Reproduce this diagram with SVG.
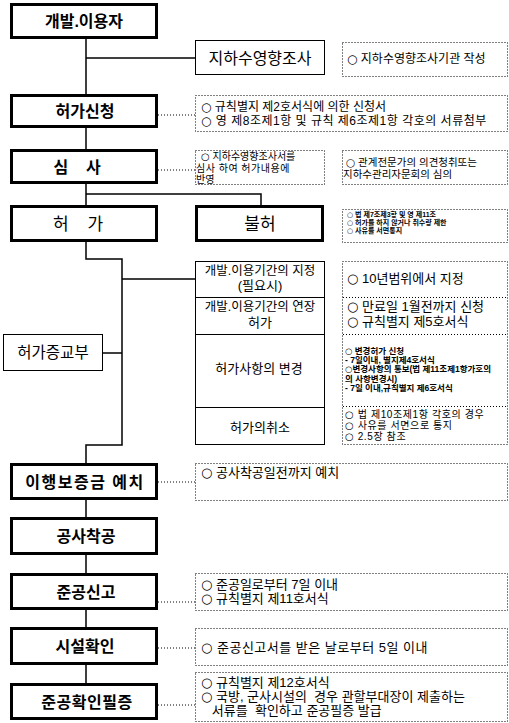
<svg xmlns="http://www.w3.org/2000/svg" width="509" height="723" viewBox="0 0 509 723">
<style>
text{font-family:"Liberation Sans","Noto Sans CJK KR",sans-serif;fill:#000}
.c{font-family:"DejaVu Sans","Noto Sans CJK KR",sans-serif;font-weight:normal}
.main{fill:#fff;stroke:#000;stroke-width:3}
.thin{fill:#fff;stroke:#000;stroke-width:1}
.dot{fill:none;stroke:#000;stroke-width:1;stroke-dasharray:1 2}
.ln{fill:none;stroke:#000;stroke-width:1.5}
.dl{fill:none;stroke:#000;stroke-width:1;stroke-dasharray:1 2}
.lb{font-size:16px;font-weight:bold;text-anchor:middle}
.lr{font-size:17px;text-anchor:middle}
.sub{font-size:13px;text-anchor:middle}
.n12{font-size:12px}
.n13{font-size:13px}
.n11{font-size:10px}
.n7{font-size:7px;font-weight:bold}
.n8{font-size:8.5px;font-weight:bold}
</style>
<rect width="509" height="723" fill="#fff"/>
<g id="connectors">
<path class="ln" d="M86,38V94M86,58H195M86,127V149M86,183V205M86,194H261V205M86,242V259H122V445H86V463M122,279H195M103,353H122M86,500V517M86,555V573M86,610V627M86,665V683"/>
<path class="dl" d="M158,115H195M158,170H195M158,482H195M158,602H195M158,648H195M158,705H195"/>
</g>
<g id="n1"><rect class="main" x="11.5" y="4.5" width="145" height="33"/><text class="lb" x="84" y="27">개발.이용자</text></g>
<g id="n2"><rect class="thin" x="195.5" y="40.5" width="129" height="34"/><text class="lr" x="260" y="64" style="font-size:16px">지하수영향조사</text></g>
<g id="note1"><rect class="dot" x="342.5" y="42.5" width="165" height="34"/><text class="n12" x="347" y="63"><tspan class="c">○</tspan> 지하수영향조사기관 작성</text></g>
<g id="n3"><rect class="main" x="11.5" y="95.5" width="145" height="31"/><text class="lb" x="85" y="117">허가신청</text></g>
<g id="note2"><rect class="dot" x="195.5" y="95.5" width="312" height="36"/><text class="n12" x="201" y="111"><tspan class="c">○</tspan> 규칙별지 제2호서식에 의한 신청서</text><text class="n12" x="201" y="125" style="letter-spacing:0.5px"><tspan class="c">○</tspan> 영 제8조제1항 및 규칙 제6조제1항 각호의 서류첨부</text></g>
<g id="n4"><rect class="main" x="11.5" y="150.5" width="145" height="32"/><text class="lb" x="77" y="173" xml:space="preserve">심    사</text></g>
<g id="note3"><rect class="dot" x="195.5" y="150.5" width="129" height="34"/><text class="n11" x="201" y="160"><tspan class="c">○</tspan> 지하수영향조사서를</text><text class="n11" x="196" y="172" style="letter-spacing:0.5px">심사 하여 허가내용에</text><text class="n11" x="196" y="183">반영</text></g>
<g id="note4"><rect class="dot" x="342.5" y="150.5" width="165" height="34"/><text class="n11" x="346" y="166" style="font-size:10.5px"><tspan class="c">○</tspan> 관계전문가의 의견청취또는</text><text class="n11" x="343" y="178" style="font-size:10.5px">지하수관리자문회의 심의</text></g>
<g id="n5"><rect class="main" x="11.5" y="206.5" width="145" height="34"/><text class="lr" x="78" y="230" xml:space="preserve">허    가</text></g>
<g id="n6"><rect class="main" x="196.5" y="206.5" width="126" height="34"/><text class="lr" x="260" y="230">불허</text></g>
<g id="note5"><rect class="dot" x="342.5" y="209.5" width="165" height="33"/><text class="n7" x="347" y="217"><tspan class="c">○</tspan> 법 제7조제3항 및 영 제11조</text><text class="n7" x="347" y="225"><tspan class="c">○</tspan> 허가를 하지 않거나 취수량 제한</text><text class="n7" x="347" y="233"><tspan class="c">○</tspan> 사유를 서면통지</text></g>
<g id="n7"><rect class="thin" x="195.5" y="261.5" width="129" height="183"/>
<path d="M195,297.5H325M195,334.5H325M195,407.5H325" stroke="#000" stroke-width="1"/>
<text class="sub" x="260" y="275" style="font-size:12.5px">개발.이용기간의 지정</text><text class="sub" x="260" y="290">(필요시)</text>
<text class="sub" x="260" y="311" style="font-size:12.5px">개발.이용기간의 연장</text><text class="sub" x="260" y="327">허가</text>
<text class="sub" x="259" y="373">허가사항의 변경</text>
<text class="sub" x="260" y="432">허가의취소</text></g>
<g id="n8"><rect class="thin" x="3.5" y="334.5" width="99" height="36"/><text class="lr" x="53" y="358" style="font-size:15.5px">허가증교부</text></g>
<g id="note6"><rect class="dot" x="342.5" y="261.5" width="165" height="183"/>
<path class="dl" d="M343,297.5H508M343,334.5H508M343,406.5H508"/>
<text class="n13" x="347" y="283"><tspan class="c">○</tspan> 10년범위에서 지정</text>
<text class="n13" x="347" y="311"><tspan class="c">○</tspan> 만료일 1월전까지 신청</text><text class="n13" x="347" y="326"><tspan class="c">○</tspan> 규칙별지 제5호서식</text>
<text class="n8" x="345" y="354"><tspan class="c">○</tspan> 변경허가 신청</text><text class="n8" x="345" y="363"> - 7일이내, 별지제4호서식</text><text class="n8" x="345" y="372"><tspan class="c">○</tspan>변경사항의 통보(법 제11조제1항가호의</text><text class="n8" x="345" y="382">의 사항변경시)</text><text class="n8" x="345" y="391">- 7일 이내,규칙별지 제6호서식</text>
<text class="n11" x="345" y="418" style="letter-spacing:0.6px"><tspan class="c">○</tspan> 법 제10조제1항 각호의 경우</text><text class="n11" x="345" y="429" style="letter-spacing:0.6px"><tspan class="c">○</tspan> 사유를 서면으로 통지</text><text class="n11" x="345" y="440" style="letter-spacing:0.6px"><tspan class="c">○</tspan> 2.5장 참조</text></g>
<g id="n9"><rect class="main" x="11.5" y="464.5" width="145" height="34"/><text class="lb" x="85" y="488" style="letter-spacing:1.5px">이행보증금 예치</text></g>
<g id="note7"><rect class="dot" x="195.5" y="463.5" width="312" height="37"/><text class="n13" x="201" y="477"><tspan class="c">○</tspan> 공사착공일전까지 예치</text></g>
<g id="n10"><rect class="main" x="11.5" y="518.5" width="145" height="35"/><text class="lb" x="86" y="542">공사착공</text></g>
<g id="n11"><rect class="main" x="11.5" y="574.5" width="145" height="34"/><text class="lb" x="86" y="598">준공신고</text></g>
<g id="note8"><rect class="dot" x="195.5" y="573.5" width="312" height="37"/><text class="n13" x="201" y="589"><tspan class="c">○</tspan> 준공일로부터 7일 이내</text><text class="n13" x="201" y="603"><tspan class="c">○</tspan> 규칙별지 제11호서식</text></g>
<g id="n12"><rect class="main" x="11.5" y="628.5" width="145" height="35"/><text class="lb" x="85" y="652">시설확인</text></g>
<g id="note9"><rect class="dot" x="195.5" y="628.5" width="312" height="37"/><text class="n13" x="201" y="652" style="letter-spacing:0.5px"><tspan class="c">○</tspan> 준공신고서를 받은 날로부터 5일 이내</text></g>
<g id="n13"><rect class="main" x="11.5" y="684.5" width="145" height="34"/><text class="lb" x="87" y="708" style="letter-spacing:0.5px">준공확인필증</text></g>
<g id="note10"><rect class="dot" x="195.5" y="672.5" width="312" height="49"/><text class="n13" x="201" y="687"><tspan class="c">○</tspan> 규칙별지 제12호서식</text><text class="n13" x="201" y="701" xml:space="preserve"><tspan class="c">○</tspan> 국방, 군사시설의  경우 관할부대장이 제출하는</text><text class="n13" x="201" y="715" xml:space="preserve">   서류를  확인하고 준공필증 발급</text></g>
</svg>
